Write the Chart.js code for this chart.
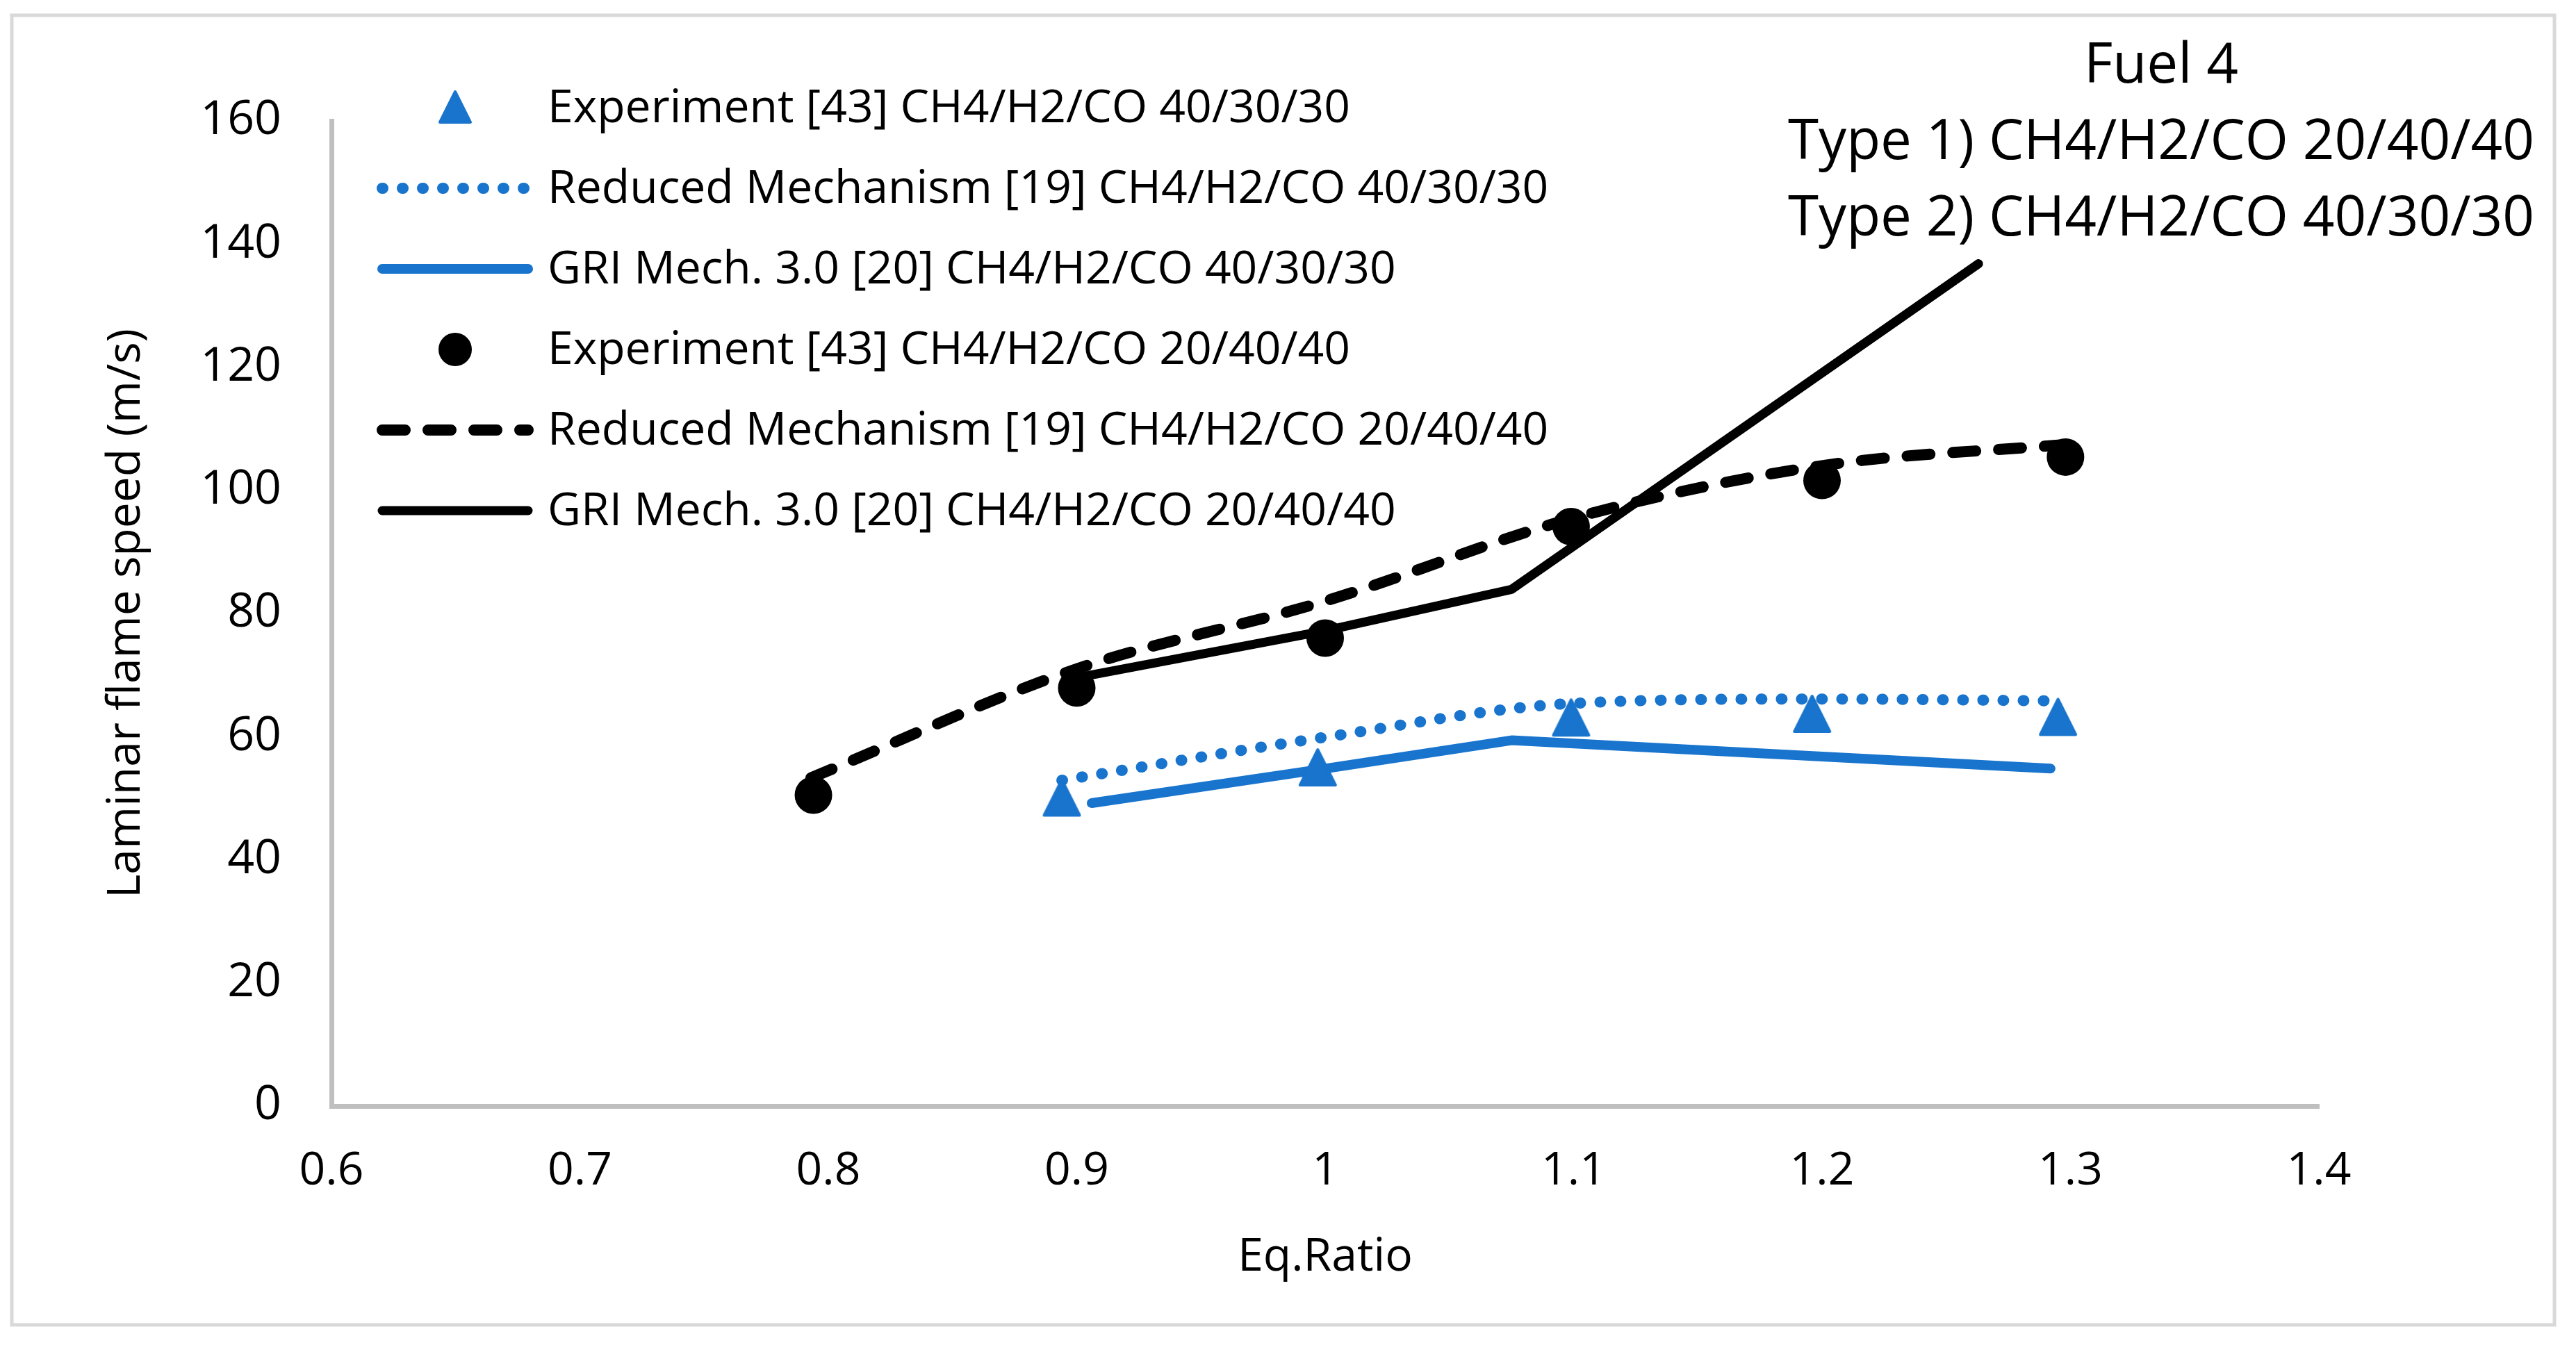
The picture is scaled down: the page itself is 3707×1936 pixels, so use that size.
<!DOCTYPE html>
<html>
<head>
<meta charset="utf-8">
<script src="https://cdn.jsdelivr.net/npm/chart.js@4.4.1/dist/chart.umd.min.js"></script>
<style>
  html, body { margin: 0; padding: 0; background: #ffffff; }
  canvas { display: block; }
</style>
</head>
<body>
<canvas id="c" width="3707" height="1936"></canvas>
<script>
// ---------------- DATA ----------------
const exp4030X = [0.894, 0.997, 1.099, 1.196, 1.295];
const exp4030Y = [50.1, 55.0, 63.1, 63.7, 63.2];

const red4030X = [0.894, 1.0, 1.1, 1.2, 1.295];
const red4030Y = [52.9, 59.9, 65.4, 66.1, 65.8];

const gri4030X = [0.906, 1.0, 1.075, 1.292];
const gri4030Y = [49.2, 54.8, 59.4, 54.8];

const exp2040X = [0.794, 0.9, 1.0, 1.099, 1.2, 1.298];
const exp2040Y = [50.5, 67.9, 76.0, 94.1, 101.6, 105.4];

const red2040X = [0.793, 0.9, 1.0, 1.1, 1.2, 1.3];
const red2040Y = [53.3, 71.0, 82.0, 95.5, 104.0, 107.5];

const gri2040X = [0.898, 1.0, 1.075, 1.263];
const gri2040Y = [69.4, 77.2, 83.9, 136.8];

const seriesNames = [
  'Experiment [43] CH4/H2/CO 40/30/30',
  'Reduced Mechanism [19] CH4/H2/CO 40/30/30',
  'GRI Mech. 3.0 [20] CH4/H2/CO 40/30/30',
  'Experiment [43] CH4/H2/CO 20/40/40',
  'Reduced Mechanism [19] CH4/H2/CO 20/40/40',
  'GRI Mech. 3.0 [20] CH4/H2/CO 20/40/40'
];

const xTickValues = [0.6, 0.7, 0.8, 0.9, 1.0, 1.1, 1.2, 1.3, 1.4];
const xTickLabels = ['0.6', '0.7', '0.8', '0.9', '1', '1.1', '1.2', '1.3', '1.4'];
const yTickValues = [0, 20, 40, 60, 80, 100, 120, 140, 160];
const yTickLabels = ['0', '20', '40', '60', '80', '100', '120', '140', '160'];

const titleLines = ['Fuel 4', 'Type 1) CH4/H2/CO 20/40/40', 'Type 2) CH4/H2/CO 40/30/30'];
const xAxisTitle = 'Eq.Ratio';
const yAxisTitle = 'Laminar flame speed (m/s)';

// ---------------- STYLE ----------------
const BLUE = '#1874cd';
const BLACK = '#000000';
const FONT = '"Open Sans", "Noto Sans", "DejaVu Sans", sans-serif';

function pts(xs, ys) { return xs.map((x, i) => ({ x: x, y: ys[i] })); }

function makeTriangle(size, color) {
  const c = document.createElement('canvas');
  c.width = size; c.height = size;
  const g = c.getContext('2d');
  const m = 3;
  g.fillStyle = color; g.strokeStyle = color;
  g.lineJoin = 'round'; g.lineWidth = 4;
  g.beginPath();
  g.moveTo(size / 2, m);
  g.lineTo(size - m, size - m);
  g.lineTo(m, size - m);
  g.closePath();
  g.fill(); g.stroke();
  return c;
}
const triPlot = makeTriangle(57, BLUE);

const datasets = [
  { label: seriesNames[0], data: pts(exp4030X, exp4030Y), showLine: false,
    pointStyle: triPlot, pointRadius: 28, borderColor: BLUE, backgroundColor: BLUE, legendMarker: 'triangle' },
  { label: seriesNames[1], data: pts(red4030X, red4030Y), borderColor: BLUE, borderWidth: 16,
    borderDash: [1, 28], borderCapStyle: 'round', pointRadius: 0, cubicInterpolationMode: 'monotone' },
  { label: seriesNames[2], data: pts(gri4030X, gri4030Y), borderColor: BLUE, borderWidth: 14,
    borderCapStyle: 'round', borderJoinStyle: 'round', pointRadius: 0, tension: 0 },
  { label: seriesNames[3], data: pts(exp2040X, exp2040Y), showLine: false,
    pointStyle: 'circle', pointRadius: 27, pointBorderWidth: 0, borderColor: BLACK, backgroundColor: BLACK, legendMarker: 'circle' },
  { label: seriesNames[4], data: pts(red2040X, red2040Y), borderColor: BLACK, borderWidth: 16,
    borderDash: [33, 33], borderCapStyle: 'round', pointRadius: 0, cubicInterpolationMode: 'monotone' },
  { label: seriesNames[5], data: pts(gri2040X, gri2040Y), borderColor: BLACK, borderWidth: 13,
    borderCapStyle: 'round', borderJoinStyle: 'round', pointRadius: 0, tension: 0 }
];

// Outer frame + custom legend + title drawn on the chart canvas
const decorPlugin = {
  id: 'decor',
  beforeDraw(chart) {
    const ctx = chart.ctx;
    ctx.save();
    ctx.fillStyle = '#ffffff';
    ctx.fillRect(0, 0, chart.width, chart.height);
    ctx.strokeStyle = '#d9d9d9';
    ctx.lineWidth = 5;
    ctx.strokeRect(17, 22, 3659, 1885);
    ctx.restore();
  },
  afterDraw(chart) {
    const ctx = chart.ctx;
    ctx.save();
    // Legend
    const rowY = [155, 271, 387, 503, 619, 735];
    const symL = 546, symR = 764, symC = 655, textX = 788;
    ctx.font = '66px ' + FONT;
    ctx.textBaseline = 'middle';
    ctx.textAlign = 'left';
    chart.data.datasets.forEach((ds, i) => {
      const y = rowY[i];
      if (ds.legendMarker === 'triangle') {
        const t = makeTriangle(50, ds.backgroundColor);
        ctx.drawImage(t, symC - 25, y - 26);
      } else if (ds.legendMarker === 'circle') {
        ctx.fillStyle = ds.backgroundColor;
        ctx.beginPath(); ctx.arc(symC, y, 24, 0, Math.PI * 2); ctx.fill();
      } else {
        ctx.strokeStyle = ds.borderColor;
        ctx.lineWidth = ds.borderWidth;
        ctx.lineCap = 'round';
        ctx.setLineDash(ds.borderDash || []);
        ctx.beginPath(); ctx.moveTo(symL + 4, y); ctx.lineTo(symR - 4, y); ctx.stroke();
        ctx.setLineDash([]);
      }
      ctx.fillStyle = '#000000';
      ctx.fillText(ds.label, textX, y + 2);
    });
    // Title block
    ctx.font = '80px ' + FONT;
    ctx.textAlign = 'center';
    const tY = [96, 206, 316];
    titleLines.forEach((s, i) => ctx.fillText(s, 3110, tY[i]));
    ctx.restore();
  }
};

new Chart(document.getElementById('c'), {
  type: 'line',
  data: { datasets: datasets },
  plugins: [decorPlugin],
  options: {
    responsive: false,
    maintainAspectRatio: false,
    devicePixelRatio: 1,
    animation: false,
    layout: { padding: { top: 174, right: 370, left: 0, bottom: 0 } },
    plugins: { legend: { display: false }, title: { display: false }, tooltip: { enabled: false } },
    scales: {
      x: {
        type: 'linear', min: 0.6, max: 1.4,
        afterBuildTicks: (s) => { s.ticks = xTickValues.map(v => ({ value: v })); },
        afterFit: (s) => { s.height = 344; },
        grid: { display: false, drawTicks: false },
        border: { display: true, color: '#bfbfbf', width: 7 },
        ticks: { padding: 55, color: '#000', font: { family: FONT, size: 66 },
                 maxRotation: 0, autoSkip: false,
                 callback: (v, i) => xTickLabels[i] },
        title: { display: true, text: xAxisTitle, color: '#000',
                 font: { family: FONT, size: 66 }, padding: { top: 0, bottom: 86 } }
      },
      y: {
        type: 'linear', min: 0, max: 160,
        afterBuildTicks: (s) => { s.ticks = yTickValues.map(v => ({ value: v })); },
        afterFit: (s) => { s.width = 477; },
        grid: { display: false, drawTicks: false },
        border: { display: true, color: '#bfbfbf', width: 7 },
        ticks: { padding: 72, color: '#000', font: { family: FONT, size: 68 },
                 callback: (v, i) => yTickLabels[i] },
        title: { display: true, text: yAxisTitle, color: '#000',
                 font: { family: FONT, size: 66 }, padding: { top: 143, bottom: 0 } }
      }
    }
  }
});
</script>
</body>
</html>
